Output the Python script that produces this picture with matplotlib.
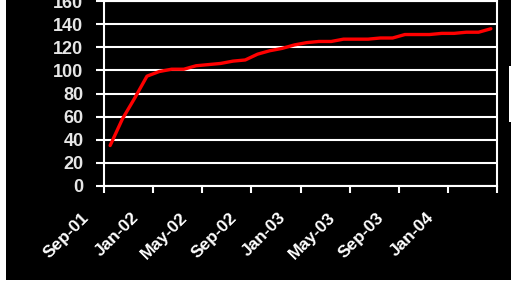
import numpy as np
import matplotlib
matplotlib.use("Agg")
import matplotlib.pyplot as plt
from matplotlib.patches import Rectangle
from matplotlib.transforms import ScaledTranslation

# ---- data ----
months = ["Sep-01", "Oct-01", "Nov-01", "Dec-01", "Jan-02", "Feb-02", "Mar-02", "Apr-02",
          "May-02", "Jun-02", "Jul-02", "Aug-02", "Sep-02", "Oct-02", "Nov-02", "Dec-02",
          "Jan-03", "Feb-03", "Mar-03", "Apr-03", "May-03", "Jun-03", "Jul-03", "Aug-03",
          "Sep-03", "Oct-03", "Nov-03", "Dec-03", "Jan-04", "Feb-04", "Mar-04", "Apr-04"]
values = [35, 58, 76, 95, 99, 101, 101, 104,
          105, 106, 108, 109, 114, 117, 119, 122,
          124, 125, 125, 127, 127, 127, 128, 128,
          131, 131, 131, 132, 132, 133, 133, 136]
tick_labels = ["Sep-01", "Jan-02", "May-02", "Sep-02", "Jan-03", "May-03", "Sep-03", "Jan-04", ""]
y_ticks = [0, 20, 40, 60, 80, 100, 120, 140, 160]

plt.rcParams['font.family'] = ['Liberation Sans', 'DejaVu Sans']

W, H = 518, 285
fig = plt.figure(figsize=(W / 100, H / 100), dpi=100, facecolor='white')

# black chart area background
fig.add_artist(Rectangle((6 / W, 1 - 280 / H), (511 - 6) / W, 280 / H,
                         transform=fig.transFigure, facecolor='black',
                         edgecolor='none', zorder=-10))
# partial white legend box at right edge
fig.add_artist(Rectangle((509 / W, 1 - 122 / H), (W - 509) / W, (122 - 66) / H,
                         transform=fig.transFigure, facecolor='white',
                         edgecolor='none', zorder=-9))

ax = fig.add_axes([104 / W, 1 - 186 / H, (497 - 104) / W, (186 - 1) / H])
ax.set_facecolor('black')

x = np.arange(len(values)) + 0.5
ax.plot(x, values, color='#ff0000', lw=2.4, solid_capstyle='round', zorder=3)

ax.set_xlim(0, len(values))
ax.set_ylim(0, 160)
ax.set_yticks(y_ticks)
ax.set_yticklabels([str(v) for v in y_ticks])
ax.set_xticks(np.arange(0, len(values) + 1, 4))
ax.set_xticklabels(tick_labels)

ax.grid(axis='y', color='white', lw=1.5, zorder=1)
for s in ['left', 'right', 'bottom', 'top']:
    ax.spines[s].set_color('white')
    ax.spines[s].set_linewidth(1.5)

ax.tick_params(axis='y', colors='white', length=5.8, width=1.5, pad=9, labelsize=13)
ax.tick_params(axis='x', colors='white', length=5, width=1.5, pad=16, labelsize=12.5)
for t in ax.get_yticklabels():
    t.set_fontweight('bold')
    t.set_color('#e6e6e6')
offset = ScaledTranslation(-17 / 100, 0, fig.dpi_scale_trans)
for t in ax.get_xticklabels():
    t.set_fontweight('bold')
    t.set_color('white')
    t.set_rotation(45)
    t.set_rotation_mode('anchor')
    t.set_ha('right')
    t.set_va('center')
    t.set_transform(t.get_transform() + offset)

fig.savefig('out.png', dpi=100, facecolor='white')
